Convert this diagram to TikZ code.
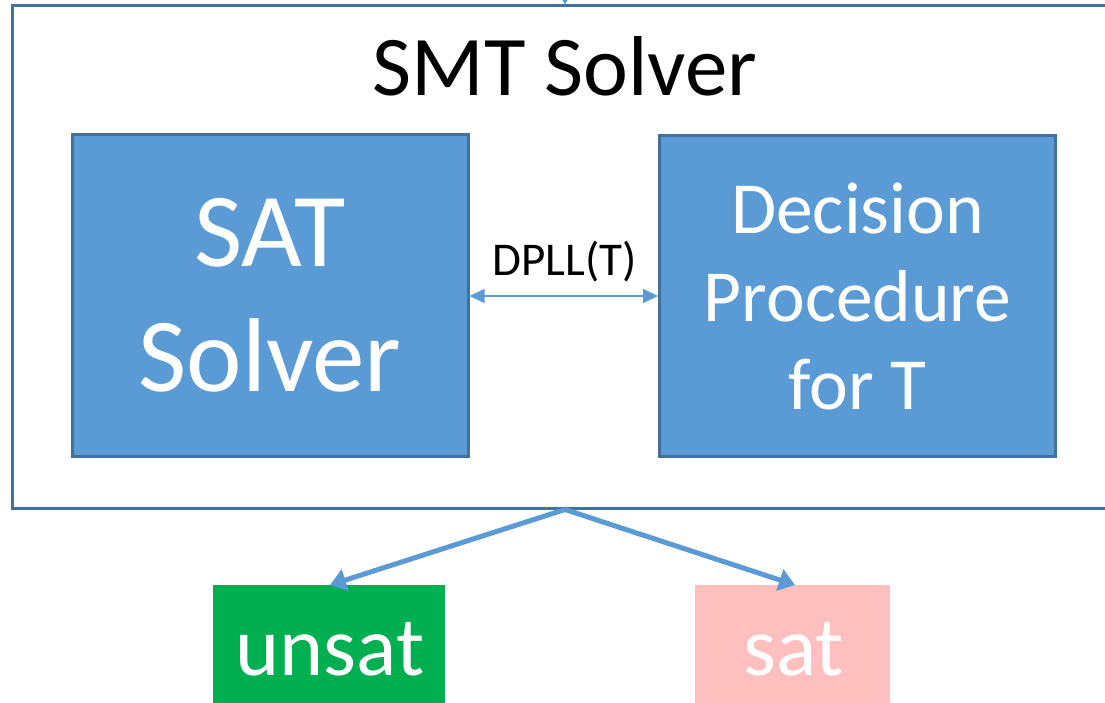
\documentclass[tikz,border=0pt]{standalone}
\usepackage{fontspec}
\setmainfont{Carlito}
\usetikzlibrary{arrows.meta}
\definecolor{boxblue}{HTML}{5B9BD5}
\definecolor{edgeblue}{HTML}{41719C}
\definecolor{unsatgreen}{HTML}{00B050}
\definecolor{satpink}{HTML}{FFBFBF}
\tikzset{
  solverbox/.style={draw=edgeblue, line width=3pt, fill=boxblue, text=white,
    align=center, inner sep=0pt, minimum width=396pt, minimum height=321pt},
  resultbox/.style={inner sep=0pt, minimum height=130pt},
  resulttext/.style={text=white, anchor=base, inner sep=0pt, font=\fontsize{84}{100}\selectfont},
  flow/.style={draw=boxblue, line width=5pt, -{Triangle[length=16pt,width=22pt]}},
  link/.style={draw=boxblue, line width=1.5pt, {Triangle[length=15pt,width=14pt]}-{Triangle[length=15pt,width=14pt]}}
}
\begin{document}
\begin{tikzpicture}[x=1pt,y=-1pt]
\useasboundingbox (0,0) rectangle (1105,703);
\clip (0,0) rectangle (1105,703);

% outer SMT solver frame (runs off the right edge)
\node[draw=edgeblue, line width=3pt, inner sep=0pt,
      minimum width=1106pt, minimum height=502pt] (smt) at (565,257) {};
\node[anchor=base, inner sep=0pt, font=\fontsize{85}{100}\selectfont] (title) at (565,96) {SMT Solver};

% input arrow entering from above
\coordinate (input) at (565,-30);
\draw[draw=boxblue, line width=1.5pt, -{Triangle[length=7pt,width=8pt]}] (input) -- (smt.north);

% the two components
\node[solverbox, font=\fontsize{105}{125}\selectfont] (sat) at (270,295.5) {SAT\\Solver};
\node[solverbox, font=\fontsize{73.5}{88}\selectfont] (dp) at (857.5,296) {Decision\\Procedure\\for T};

\draw[link] (sat.east |- 0,296) -- (dp.west |- 0,296);
\node[anchor=base, inner sep=0pt, font=\fontsize{47}{56}\selectfont] (dpll) at (564.5,276) {DPLL(T)};

% results
\node[resultbox, fill=unsatgreen, minimum width=232pt, anchor=north] (unsatbox) at (329,585) {};
\node[resultbox, fill=satpink, minimum width=195pt, anchor=north] (satbox) at (792.5,585) {};
\node[resulttext] (unsat) at (330,675) {unsat};
\node[resulttext] (satres) at (793.5,675) {sat};

\coordinate (fork) at (smt.south);
\draw[flow] (fork) -- (unsatbox.north -| 330,0);
\draw[flow] (fork) -- (satbox.north -| 795,0);
\end{tikzpicture}
\end{document}
